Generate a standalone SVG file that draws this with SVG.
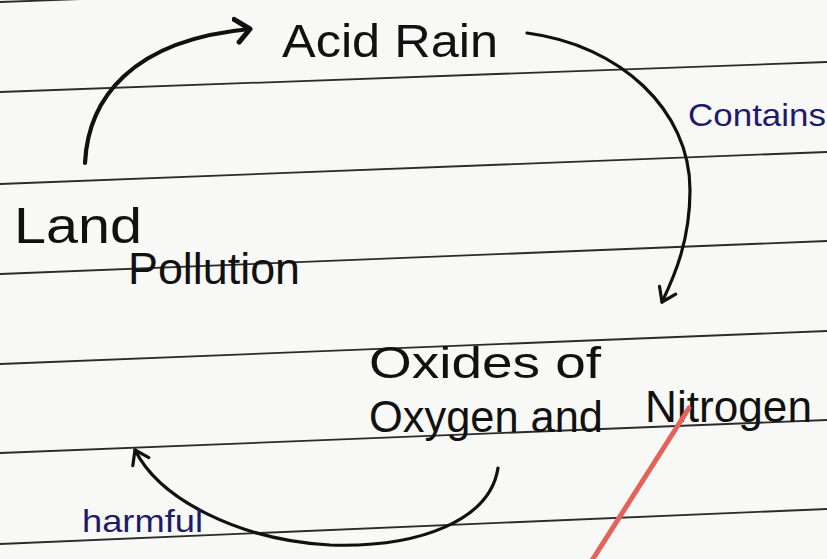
<svg xmlns="http://www.w3.org/2000/svg" width="827" height="559" viewBox="0 0 827 559">
<style>
.rule{stroke:#2b2b2b;stroke-width:1.8;fill:none}
.ink{font-family:"Liberation Sans",Arial,sans-serif;fill:#111}
.blue{font-family:"Liberation Sans",Arial,sans-serif;fill:#1d1b6a}
.conn{stroke:#111;stroke-width:3.2;fill:none;stroke-linecap:round}
</style>
<defs>
<marker id="ah" markerUnits="userSpaceOnUse" markerWidth="30" markerHeight="30" viewBox="-15 -15 30 30" refX="0" refY="0" orient="auto">
<path d="M-13,-9 L0,0 L-13,9" fill="none" stroke="#111" stroke-width="3.2" stroke-linecap="round" stroke-linejoin="round"/>
</marker>
<marker id="ahb" markerUnits="userSpaceOnUse" markerWidth="34" markerHeight="34" viewBox="-17 -17 34 34" refX="0" refY="0" orient="auto">
<path d="M-15,-11 L0,0 L-12,12" fill="none" stroke="#111" stroke-width="5" stroke-linecap="round" stroke-linejoin="round"/>
</marker>
</defs>
<rect width="827" height="559" fill="#f8f9f7"/>
<g id="rules">
<line class="rule" x1="0" y1="2" x2="827" y2="-28"/>
<line class="rule" x1="0" y1="92" x2="827" y2="62"/>
<line class="rule" x1="0" y1="184" x2="827" y2="152"/>
<line class="rule" x1="0" y1="274" x2="827" y2="241"/>
<line class="rule" x1="0" y1="364" x2="827" y2="331"/>
<line class="rule" x1="0" y1="453" x2="827" y2="420"/>
<line class="rule" x1="0" y1="544" x2="827" y2="509"/>
</g>
<g id="connectors">
<path class="conn" style="stroke-width:4.2" d="M85,163 C88,100 130,40 250,29" marker-end="url(#ahb)"/>
<path class="conn" d="M527,33 C620,45 690,110 690,190 C690,240 675,275 662,302" marker-end="url(#ah)"/>
<path class="conn" d="M498,468 C490,520 420,548 330,545 C240,540 160,500 135,450" marker-end="url(#ah)"/>
</g>
<g id="acid-rain"><text class="ink" x="282" y="57" font-size="46" textLength="216" lengthAdjust="spacingAndGlyphs">Acid Rain</text></g>
<g id="contains-label"><text class="blue" x="688" y="126" font-size="32" textLength="138" lengthAdjust="spacingAndGlyphs">Contains</text></g>
<g id="land-pollution">
<text class="ink" x="14" y="243" font-size="50" textLength="128" lengthAdjust="spacingAndGlyphs">Land</text>
<text class="ink" x="128" y="284" font-size="44" textLength="172" lengthAdjust="spacingAndGlyphs">Pollution</text>
</g>
<g id="oxides">
<text class="ink" x="369" y="378" font-size="44" textLength="232" lengthAdjust="spacingAndGlyphs">Oxides of</text>
<text class="ink" font-size="44"><tspan x="369" y="432" textLength="234" lengthAdjust="spacingAndGlyphs">Oxygen and</tspan><tspan x="645" y="422" textLength="167" lengthAdjust="spacingAndGlyphs">Nitrogen</tspan></text>
</g>
<g id="harmful-label"><text class="blue" x="82" y="532" font-size="32" textLength="121" lengthAdjust="spacingAndGlyphs">harmful</text></g>
<g id="red-mark"><line x1="689" y1="408" x2="591" y2="562" stroke="#e5625a" stroke-width="5" stroke-linecap="round"/></g>
</svg>
